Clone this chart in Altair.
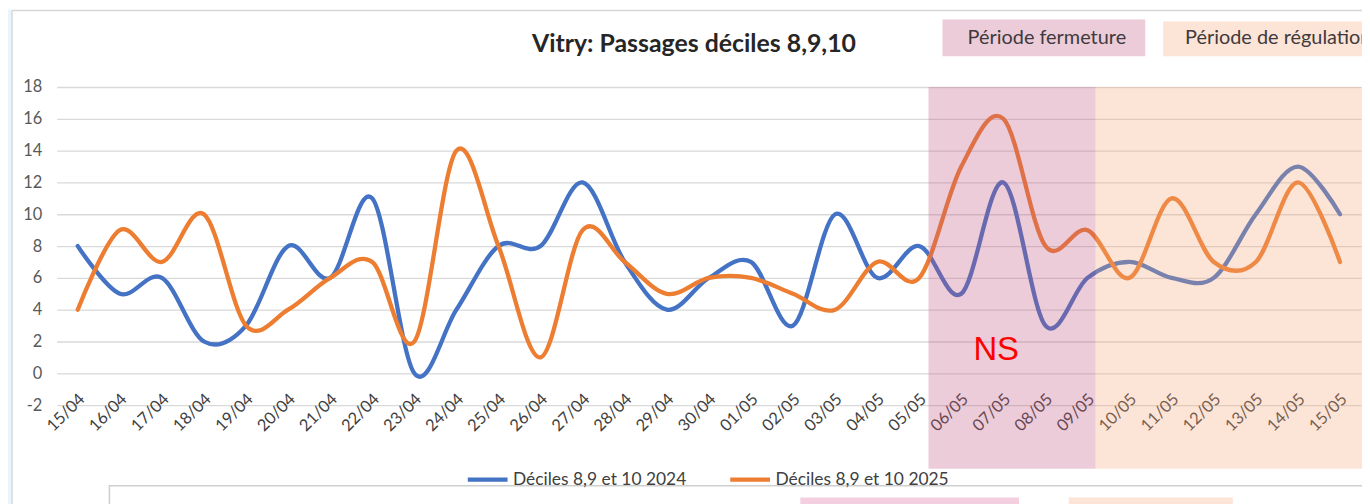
import altair as alt
import pandas as pd

# ---- data ----
dates = ["15/04", "16/04", "17/04", "18/04", "19/04", "20/04", "21/04", "22/04",
         "23/04", "24/04", "25/04", "26/04", "27/04", "28/04", "29/04", "30/04",
         "01/05", "02/05", "03/05", "04/05", "05/05", "06/05", "07/05", "08/05",
         "09/05", "10/05", "11/05", "12/05", "13/05", "14/05", "15/05"]
values_2024 = [8, 5, 6, 2, 3, 8, 6, 11, 0, 4, 8, 8, 12, 7, 4, 6, 7, 3, 10, 6, 8,
               5, 12, 3, 6, 7, 6, 6, 10, 13, 10]
values_2025 = [4, 9, 7, 10, 3, 4, 6, 7, 2, 14, 8, 1, 9, 7, 5, 6, 6, 5, 4, 7, 6,
               13, 16, 8, 9, 6, 11, 7, 7, 12, 7]
series_names = ["Déciles 8,9 et 10 2024", "Déciles 8,9 et 10 2025"]
series_colors = ["#4472C4", "#ED7D31"]

band_names = ["Période fermeture", "Période de régulation"]
band_start = [20.22, 24.19]
band_end = [24.19, 30.7]
band_colors = ["#C0557D", "#F5A576"]

title_text = "Vitry: Passages déciles 8,9,10"
y_ticks = [-2, 0, 2, 4, 6, 8, 10, 12, 14, 16, 18]

# ---- tables ----
rows = []
for name, vals in zip(series_names, [values_2024, values_2025]):
    for i, (d, v) in enumerate(zip(dates, vals)):
        rows.append({"idx": i, "date": d, "series": name, "value": v})
df = pd.DataFrame(rows)
bands = pd.DataFrame({"name": band_names, "x0": band_start, "x1": band_end})

FONT = "Lato"
label_expr = "[" + ",".join(f"'{d}'" for d in dates) + "][datum.value]"

x_scale = alt.Scale(domain=[-0.5, 30.5], nice=False, zero=False)
y_scale = alt.Scale(domain=[-2, 18], nice=False, zero=False)

lines = alt.Chart(df).mark_line(
    interpolate="cardinal", tension=0, strokeWidth=4.3, strokeCap="round"
).encode(
    x=alt.X("idx:Q", scale=x_scale, title=None, axis=alt.Axis(
        values=list(range(len(dates))), tickCount=len(dates) + 2,
        labelExpr=label_expr, labelAngle=-45,
        labelAlign="right", labelBaseline="middle", labelPadding=-9, labelOffset=4,
        grid=False, ticks=False, domain=False, labelFontSize=16.5, labelFont=FONT,
        labelColor="#404040", labelOverlap=False, labelFlush=False,
        labelBound=False)),
    y=alt.Y("value:Q", scale=y_scale, title=None, axis=alt.Axis(
        values=y_ticks, tickCount=len(y_ticks) + 2, labelExpr="datum.value + ''",
        grid=True, gridColor="#D9D9D9",
        gridWidth=1.3, domain=False, ticks=False, labelPadding=15, labelFontSize=16.5,
        labelOverlap=False, labelFont=FONT, labelColor="#595959")),
    color=alt.Color("series:N", scale=alt.Scale(domain=series_names, range=series_colors),
                    legend=alt.Legend(orient="none", legendX=411, legendY=372,
                                      direction="horizontal", title=None,
                                      symbolType="stroke", symbolStrokeWidth=4.3,
                                      symbolSize=1600, labelFontSize=17.5, labelFont=FONT,
                                      labelColor="#404040", labelOffset=3, labelLimit=400,
                                      columnPadding=34)),
    detail="series:N",
)

band_layer = alt.Chart(bands).mark_rect(clip=False, opacity=0.3).encode(
    x=alt.X("x0:Q", scale=x_scale, title=None),
    x2="x1:Q",
    y=alt.Y("y_top:Q", scale=y_scale, title=None),
    y2="y_bot:Q",
    fill=alt.Fill("name:N", scale=alt.Scale(domain=band_names, range=band_colors), legend=None),
).transform_calculate(y_top="18", y_bot="-6")

ns_text = alt.Chart(pd.DataFrame({"t": ["NS"]})).mark_text(
    font="Liberation Sans", fontSize=33, color="#FF0000", align="center", baseline="middle"
).encode(text="t:N", x=alt.value(945), y=alt.value(265))

title = alt.Chart(pd.DataFrame({"t": [title_text]})).mark_text(
    font=FONT, fontSize=25, fontWeight="bold", color="#262626", align="center", baseline="middle"
).encode(text="t:N", x=alt.value(641), y=alt.value(-43))

key1_box = alt.Chart(pd.DataFrame({"t": [band_names[0]]})).mark_rect(
    color="#ECCCD8").encode(x=alt.value(891), x2=alt.value(1095), y=alt.value(-68), y2=alt.value(-31))
key1_txt = alt.Chart(pd.DataFrame({"t": [band_names[0]]})).mark_text(
    font=FONT, fontSize=20, color="#3F3A3D", align="center", baseline="middle"
).encode(text="t:N", x=alt.value(996), y=alt.value(-49))
key2_box = alt.Chart(pd.DataFrame({"t": [band_names[1]]})).mark_rect(
    color="#FCE4D6").encode(x=alt.value(1113), x2=alt.value(1330), y=alt.value(-66), y2=alt.value(-31))
key2_txt = alt.Chart(pd.DataFrame({"t": [band_names[1]]})).mark_text(
    font=FONT, fontSize=20, color="#3F3A3D", align="left", baseline="middle"
).encode(text="t:N", x=alt.value(1135), y=alt.value(-49))

frame_top = alt.Chart(pd.DataFrame({"t": [0]})).mark_rule(color="#D6D6D6", strokeWidth=1.5).encode(
    x=alt.value(-45), x2=alt.value(1320), y=alt.value(-77))
frame_left = alt.Chart(pd.DataFrame({"t": [0]})).mark_rule(color="#D6D6D6", strokeWidth=1.5).encode(
    x=alt.value(-45), y=alt.value(-77), y2=alt.value(420))
strip = alt.Chart(pd.DataFrame({"t": [0]})).mark_rect(color="#EAF4FC").encode(
    x=alt.value(-49), x2=alt.value(-46), y=alt.value(-78), y2=alt.value(420))
bottom_box = alt.Chart(pd.DataFrame({"t": [0]})).mark_rect(
    fill="white", stroke="#CFCFCF", strokeWidth=1.5).encode(
    x=alt.value(53), x2=alt.value(1330), y=alt.value(401), y2=alt.value(440))
bottom_pink = alt.Chart(pd.DataFrame({"t": [0]})).mark_rect(color="#F3CFE0").encode(
    x=alt.value(748), x2=alt.value(968), y=alt.value(413), y2=alt.value(440))
bottom_beige = alt.Chart(pd.DataFrame({"t": [0]})).mark_rect(color="#FCE4D6").encode(
    x=alt.value(1018), x2=alt.value(1183), y=alt.value(413), y2=alt.value(440))

chart = alt.layer(
    strip, frame_top, frame_left, bottom_box, bottom_pink, bottom_beige,
    lines, band_layer, ns_text, title, key1_box, key1_txt, key2_box, key2_txt
).properties(
    width=1312, height=320,
    autosize=alt.AutoSizeParams(type="none"),
    padding={"left": 49, "top": 78, "right": 1, "bottom": 98},
).configure_view(stroke=None)

chart.save("out.html", embed_options={"renderer": "svg", "actions": False})
